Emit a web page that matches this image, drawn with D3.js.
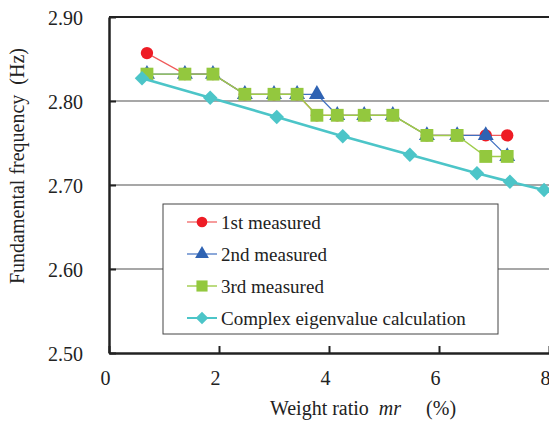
<html>
<head>
<script src="https://cdn.jsdelivr.net/npm/d3@7"></script>
<style>
body { margin: 0; background: #fff; }
svg text { font-family: "Liberation Serif", "Times New Roman", "DejaVu Serif", serif !important; fill: #222; }
</style>
</head>
<body>
<svg width="549" height="425"></svg>
<script>
// measured weight ratios (%)
const ratio = [0.69, 1.38, 1.89, 2.47, 3.0, 3.42, 3.78, 4.15, 4.64, 5.16, 5.78, 6.33, 6.85, 7.24];
const first = [2.857, 2.832, 2.832, 2.808, 2.808, 2.808, 2.783, 2.783, 2.783, 2.783, 2.759, 2.759, 2.759, 2.759];
const second = [2.832, 2.832, 2.832, 2.808, 2.808, 2.808, 2.808, 2.783, 2.783, 2.783, 2.759, 2.759, 2.759, 2.734];
const third = [2.832, 2.832, 2.832, 2.808, 2.808, 2.808, 2.783, 2.783, 2.783, 2.783, 2.759, 2.759, 2.734, 2.734];
// complex eigenvalue calculation
const calcRatio = [0.6, 1.84, 3.05, 4.25, 5.47, 6.69, 7.29, 7.91];
const calcFreq = [2.827, 2.804, 2.781, 2.758, 2.736, 2.714, 2.704, 2.694];

const yTicks = [2.5, 2.6, 2.7, 2.8, 2.9];
const xTicks = [0, 2, 4, 6, 8];
const names = ["1st measured", "2nd measured", "3rd measured", "Complex eigenvalue calculation"];

const svg = d3.select("svg");
const x = d3.scaleLinear().domain([0, 8]).range([109, 549]);
const y = d3.scaleLinear().domain([2.5, 2.9]).range([353, 17]);

// grid lines
svg.append("g").selectAll("line")
  .data([2.6, 2.7, 2.8])
  .enter().append("line")
    .attr("x1", 109).attr("x2", 549)
    .attr("y1", d => y(d)).attr("y2", d => y(d))
    .attr("stroke", "#8a8a8a").attr("stroke-width", 1.5);

// top border
svg.append("line").attr("x1", 109).attr("x2", 549).attr("y1", y(2.9)).attr("y2", y(2.9))
  .attr("stroke", "#222").attr("stroke-width", 2);

// axes
const yAxis = svg.append("g")
  .attr("transform", "translate(109,0)")
  .call(d3.axisLeft(y).tickValues(yTicks).tickFormat(d3.format(".2f")).tickSizeInner(-7).tickSizeOuter(0).tickPadding(26));
yAxis.select(".domain").attr("stroke", "#222").attr("stroke-width", 2.5);
yAxis.selectAll(".tick line").attr("stroke", "#222").attr("stroke-width", 2);
yAxis.selectAll("text").attr("font-size", 20).attr("fill", "#222").attr("dy", "0.35em");

const xAxis = svg.append("g")
  .attr("transform", "translate(0,353)")
  .call(d3.axisBottom(x).tickValues(xTicks).tickFormat(d3.format("d")).tickSizeInner(-7).tickSizeOuter(0).tickPadding(18));
xAxis.select(".domain").attr("stroke", "#222").attr("stroke-width", 2.5);
xAxis.selectAll(".tick line").attr("stroke", "#222").attr("stroke-width", 2);
xAxis.selectAll("text").attr("font-size", 20).attr("fill", "#222").attr("dx", -4);

// axis titles
svg.append("text")
  .attr("transform", "translate(24,166) rotate(-90)")
  .attr("text-anchor", "middle").attr("font-size", 20)
  .text("Fundamental frequency\u00a0\u00a0(Hz)");
const xt = svg.append("text").attr("x", 363).attr("y", 415).attr("text-anchor", "middle").attr("font-size", 20);
xt.append("tspan").text("Weight ratio\u00a0\u00a0");
xt.append("tspan").attr("font-style", "italic").text("mr");
xt.append("tspan").text("\u00a0\u00a0\u00a0\u00a0\u00a0(%)");

const line = d3.line().x(d => x(d[0])).y(d => y(d[1]));
const zip = (a, b) => a.map((v, i) => [v, b[i]]);

const series = [
  { data: zip(ratio, first), line: "#f05a5a", fill: "#ee1c25", shape: d3.symbolCircle, size: 120, lw: 1.2, rot: 0 },
  { data: zip(ratio, second), line: "#3f6fc0", fill: "#2f63b3", shape: d3.symbolTriangle, size: 110, lw: 1.2, rot: 0 },
  { data: zip(ratio, third), line: "#9fcc4a", fill: "#93c83e", shape: d3.symbolSquare, size: 165, lw: 1.4, rot: 0 },
  { data: zip(calcRatio, calcFreq), line: "#4cc5c8", fill: "#4cc5c8", shape: d3.symbolSquare, size: 105, lw: 2.6, rot: 45 }
];

series.forEach(s => {
  svg.append("path").attr("d", line(s.data)).attr("fill", "none")
    .attr("stroke", s.line).attr("stroke-width", s.lw);
  svg.append("g").selectAll("path").data(s.data).enter().append("path")
    .attr("transform", d => `translate(${x(d[0])},${y(d[1])}) rotate(${s.rot})`)
    .attr("d", d3.symbol().type(s.shape).size(s.size)())
    .attr("fill", s.fill);
});

// legend
const lg = svg.append("g").attr("transform", "translate(163,204)");
lg.append("rect").attr("width", 335).attr("height", 130)
  .attr("fill", "#fff").attr("stroke", "#444").attr("stroke-width", 1);
series.forEach((s, i) => {
  const ly = 18 + i * 32;
  lg.append("line").attr("x1", 24).attr("x2", 54).attr("y1", ly).attr("y2", ly)
    .attr("stroke", s.line).attr("stroke-width", Math.min(s.lw, 2));
  lg.append("path").attr("transform", `translate(39,${ly}) rotate(${s.rot})`)
    .attr("d", d3.symbol().type(s.shape).size(s.size * 0.75)()).attr("fill", s.fill);
  lg.append("text").attr("x", 58).attr("y", ly).attr("dy", "0.35em")
    .attr("font-size", 19).text(names[i]);
});
</script>
</body>
</html>
